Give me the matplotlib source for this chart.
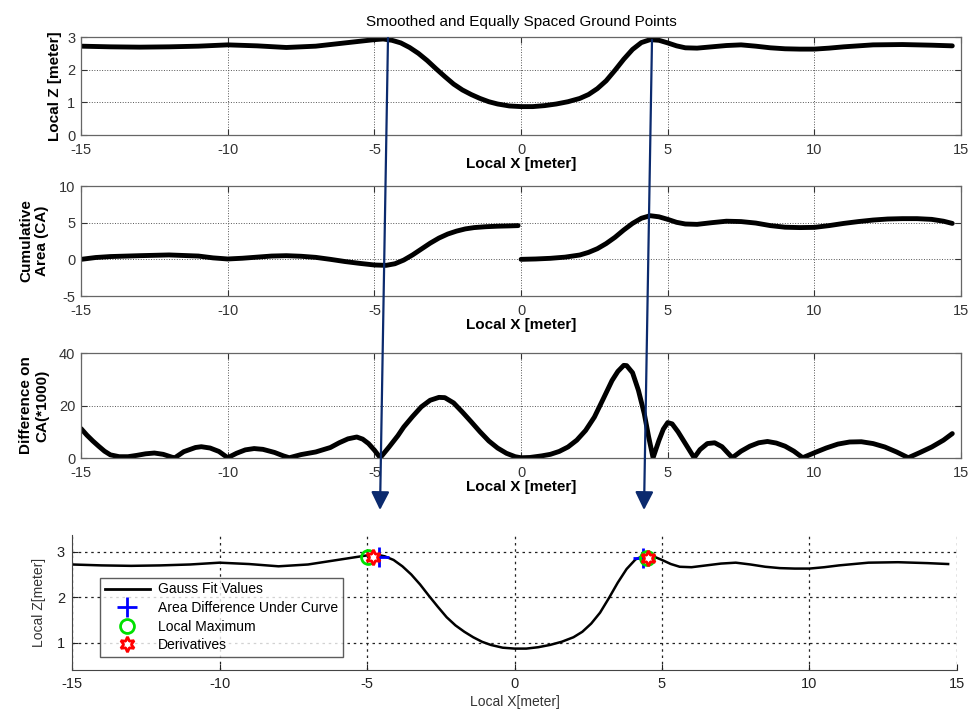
import numpy as np
import matplotlib
matplotlib.use("Agg")
import matplotlib.pyplot as plt
from matplotlib.lines import Line2D
from matplotlib.patches import FancyArrowPatch

plt.rcParams['font.family'] = ['Liberation Sans', 'DejaVu Sans']
plt.rcParams['axes.unicode_minus'] = False

# smoothed ground profile (Local X, Local Z)
gx = [-15, -14.5, -14, -13, -12, -11, -10, -9, -8, -7, -6.5, -6, -5.5, -5, -4.7, -4.4, -4.1,
      -3.8, -3.5, -3.2, -2.9, -2.6, -2.3, -2.0, -1.7, -1.4, -1.1, -0.8, -0.4, 0, 0.4, 0.8,
      1.2, 1.6, 2.0, 2.3, 2.6, 2.9, 3.2, 3.5, 3.8, 4.1, 4.4, 4.7, 5.0, 5.3, 5.6, 6.0, 6.5,
      7.0, 7.5, 8.0, 8.5, 9.0, 9.5, 10, 10.5, 11, 11.5, 12, 13, 14, 14.7]
gz = [2.72, 2.71, 2.70, 2.69, 2.70, 2.72, 2.76, 2.73, 2.68, 2.72, 2.77, 2.82, 2.87, 2.92,
      2.94, 2.90, 2.82, 2.68, 2.50, 2.28, 2.03, 1.79, 1.56, 1.38, 1.24, 1.12, 1.02, 0.95,
      0.89, 0.87, 0.87, 0.90, 0.95, 1.02, 1.12, 1.24, 1.42, 1.66, 1.98, 2.32, 2.62, 2.83,
      2.92, 2.90, 2.82, 2.73, 2.67, 2.66, 2.70, 2.74, 2.76, 2.72, 2.67, 2.64, 2.63, 2.63,
      2.66, 2.70, 2.73, 2.76, 2.77, 2.75, 2.73]

# cumulative area, left and right of the centre
ca_lx = [-15, -14.5, -14, -13, -12, -11, -10.5, -10, -9.5, -9, -8.5, -8, -7.5, -7, -6.5, -6,
         -5.5, -5, -4.6, -4.3, -4, -3.7, -3.4, -3.1, -2.8, -2.5, -2.2, -1.9, -1.6, -1.2, -0.8,
         -0.4, -0.1]
ca_ly = [0.0, 0.25, 0.38, 0.5, 0.6, 0.45, 0.2, 0.05, 0.15, 0.3, 0.45, 0.5, 0.42, 0.27, 0.0,
         -0.3, -0.55, -0.77, -0.82, -0.6, -0.1, 0.6, 1.4, 2.2, 2.9, 3.45, 3.85, 4.15, 4.33,
         4.45, 4.52, 4.56, 4.6]
ca_rx = [0, 0.5, 1, 1.5, 2, 2.3, 2.6, 2.9, 3.2, 3.5, 3.8, 4.1, 4.4, 4.7, 5.0, 5.3, 5.6, 6.0,
         6.5, 7, 7.5, 8, 8.5, 9, 9.5, 10, 10.5, 11, 11.5, 12, 12.5, 13, 13.5, 14, 14.4, 14.7]
ca_ry = [0.0, 0.05, 0.14, 0.3, 0.59, 0.95, 1.45, 2.15, 3.0, 4.0, 4.9, 5.6, 5.95, 5.8, 5.45,
         5.05, 4.82, 4.77, 5.0, 5.2, 5.15, 4.95, 4.6, 4.38, 4.33, 4.36, 4.6, 4.9, 5.15, 5.36,
         5.5, 5.55, 5.55, 5.45, 5.2, 4.9]

# difference on CA (*1000)
dx = [-15, -14.8, -14.6, -14.4, -14.2, -14, -13.7, -13.4, -13.1, -12.8, -12.5, -12.2, -11.9,
      -11.8, -11.5, -11.1, -10.9, -10.6, -10.3, -10, -9.7, -9.4, -9.1, -8.8, -8.4, -8.1,
      -7.9, -7.5, -7, -6.5, -6.2, -5.9, -5.6, -5.4, -5.2, -5.0, -4.8, -4.5, -4.2, -4.0, -3.7,
      -3.4, -3.1, -2.8, -2.6, -2.3, -2.0, -1.7, -1.4, -1.1, -0.8, -0.5, -0.2, 0, 0.3, 0.7,
      1.0, 1.3, 1.6, 1.9, 2.2, 2.5, 2.8, 3.1, 3.3, 3.5, 3.6, 3.8, 4.0, 4.2, 4.35, 4.5, 4.7,
      4.85, 5.0, 5.15, 5.35, 5.6, 5.9, 6.1, 6.35, 6.6, 6.85, 7.2, 7.5, 7.8, 8.1, 8.4, 8.7,
      9.0, 9.3, 9.6, 10.0, 10.4, 10.8, 11.2, 11.6, 12.0, 12.4, 12.8, 13.2, 13.6, 14.0, 14.4,
      14.7]
dy = [11.2, 8.7, 6.5, 4.5, 2.6, 1.2, 0.5, 0.5, 1.0, 1.6, 1.9, 1.4, 0.3, 0.1, 2.4, 4.0, 4.3,
      3.8, 2.5, 0.1, 1.8, 3.1, 3.6, 3.3, 2.1, 0.8, 0.1, 1.3, 2.3, 4.0, 5.8, 7.3, 8.0, 7.2, 5.5,
      3.0, 0.1, 4.2, 8.5, 11.8, 15.8, 19.5, 22.0, 23.1, 23.0, 21.0, 17.5, 13.8, 10.0, 6.5,
      3.8, 1.8, 0.5, 0.1, 0.2, 0.8, 1.4, 2.5, 4.2, 6.8, 10.5, 15.6, 22.5, 29.5, 33.0, 35.3,
      35.2, 32.5, 25.8, 16.9, 8.0, 0.1, 6.7, 11.0, 13.5, 13.0, 10.0, 5.5, 0.1, 3.2, 5.5, 5.8,
      4.3, 0.1, 2.6, 4.5, 5.8, 6.3, 5.7, 4.5, 2.6, 0.1, 2.0, 3.8, 5.3, 6.1, 6.2, 5.5, 4.2,
      2.3, 0.1, 2.1, 4.2, 6.8, 9.3]

# detected points for the bottom panel
area_x = [-4.6, 4.36]
area_z = [2.88, 2.87]
max_x = [-4.95, 4.5]
max_z = [2.88, 2.86]
der_x = [-4.78, 4.52]
der_z = [2.88, 2.86]

xt = [-15, -10, -5, 0, 5, 10, 15]

fig = plt.figure(figsize=(9.8, 7.19), dpi=100)

thick = dict(color='black', lw=3.5, solid_joinstyle='round', solid_capstyle='round')


def style_top(ax, yt):
    ax.set_xlim(-15, 15)
    ax.set_xticks(xt)
    ax.set_yticks(yt)
    ax.tick_params(direction='in', top=True, right=True, labelsize=10.5,
                   colors='#333333', length=4, pad=4)
    ax.tick_params(axis='x', pad=6)
    ax.grid(True, linestyle=':', color='#555555', linewidth=0.7)
    for s in ax.spines.values():
        s.set_color('#666666')
        s.set_linewidth(0.9)
    ax.set_xlabel('Local X [meter]', fontsize=11, fontweight='bold', labelpad=0)


ax1 = fig.add_axes([0.0827, 0.8122, 0.898, 0.1363])
ax1.plot(gx, gz, **thick)
ax1.set_ylim(0, 3)
style_top(ax1, [0, 1, 2, 3])
ax1.set_ylabel('Local Z [meter]', fontsize=11, fontweight='bold', labelpad=4)
ax1.set_title('Smoothed and Equally Spaced Ground Points', fontsize=11, pad=8)

ax2 = fig.add_axes([0.0827, 0.5883, 0.898, 0.153])
ax2.plot(ca_lx, ca_ly, **thick)
ax2.plot(ca_rx, ca_ry, **thick)
ax2.set_ylim(-5, 10)
style_top(ax2, [-5, 0, 5, 10])
ax2.set_ylabel('Cumulative\nArea (CA)', fontsize=11, fontweight='bold', labelpad=7)

ax3 = fig.add_axes([0.0827, 0.363, 0.898, 0.146])
ax3.plot(dx, dy, **thick)
ax3.set_ylim(0, 40)
style_top(ax3, [0, 20, 40])
ax3.set_ylabel('Difference on\nCA(*1000)', fontsize=11, fontweight='bold', labelpad=7)

ax4 = fig.add_axes([0.0735, 0.0682, 0.903, 0.1878])
ax4.plot(gx, gz, color='black', lw=1.8, solid_joinstyle='round')
ax4.plot(area_x, area_z, linestyle='none', marker='+', color='blue', ms=15, mew=2)
ax4.plot(max_x, max_z, linestyle='none', marker='o', mfc='none', mec='#00e000', ms=10, mew=2)
ax4.plot(der_x, der_z, linestyle='none', marker=(6, 1, 0), mfc='white', mec='red', ms=11, mew=2)
ax4.set_xlim(-15, 15)
ax4.set_ylim(0.4, 3.37)
ax4.set_xticks(xt)
ax4.set_yticks([1, 2, 3])
ax4.spines['top'].set_visible(False)
ax4.spines['right'].set_visible(False)
for s in ['left', 'bottom']:
    ax4.spines[s].set_color('#444444')
ax4.tick_params(direction='in', labelsize=10.5, colors='#222222', length=4, pad=5)
ax4.grid(True, linestyle=(0, (2, 3)), color='#222222', linewidth=0.9)
ax4.set_xlabel('Local X[meter]', fontsize=10, color='#333333', labelpad=3)
ax4.set_ylabel('Local Z[meter]', fontsize=10, color='#333333', labelpad=8)

handles = [
    Line2D([], [], color='black', lw=2),
    Line2D([], [], linestyle='none', marker='+', color='blue', ms=15, mew=2),
    Line2D([], [], linestyle='none', marker='o', mfc='none', mec='#00e000', ms=10, mew=2),
    Line2D([], [], linestyle='none', marker=(6, 1, 0), mfc='white', mec='red', ms=11, mew=2),
]
labels = ['Gauss Fit Values', 'Area Difference Under Curve', 'Local Maximum', 'Derivatives']
leg = ax4.legend(handles, labels, loc='lower left', bbox_to_anchor=(0.032, 0.096),
                 borderaxespad=0, fontsize=10, frameon=True, fancybox=False,
                 handlelength=3.2, labelspacing=0.33, borderpad=0.35, handletextpad=0.6)
leg.get_frame().set_edgecolor('#333333')
leg.get_frame().set_linewidth(1.0)

# arrows linking the peaks down to the detected points
navy = '#0b2a6e'
for (x0, y0), (x1, y1) in [((388, 38), (380, 510)), ((652, 40), (644, 510))]:
    arr = FancyArrowPatch((x0 / 980, 1 - y0 / 719), (x1 / 980, 1 - y1 / 719),
                          transform=fig.transFigure, color=navy, lw=1.6,
                          arrowstyle='-|>,head_length=1.1,head_width=0.55',
                          mutation_scale=10, shrinkA=0, shrinkB=0)
    fig.add_artist(arr)

fig.savefig('out.png', dpi=100)
